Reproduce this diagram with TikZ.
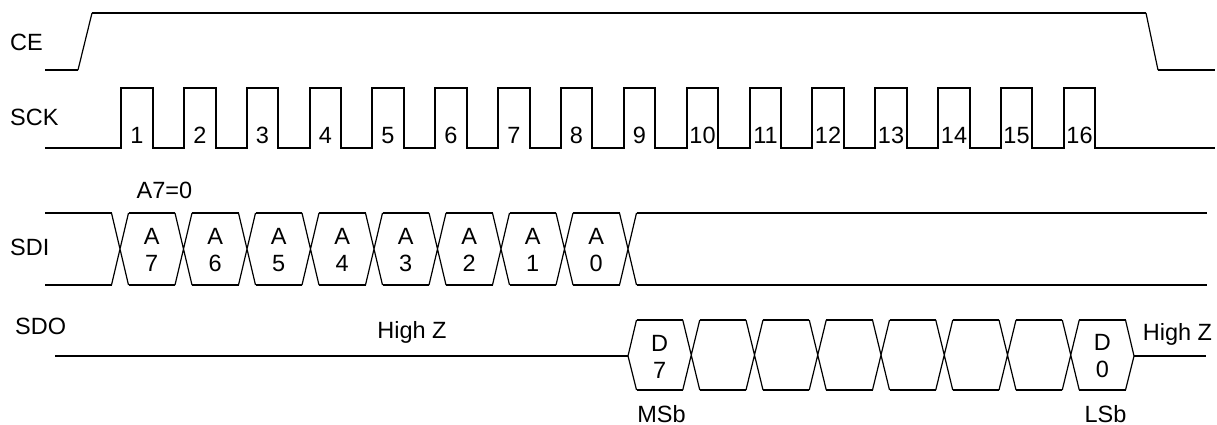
\documentclass[tikz,border=0pt]{standalone}
\usepackage{fontspec}
\setmainfont{Liberation Sans}
\usepackage{tikz}

\begin{document}
\begin{tikzpicture}[x=1pt,y=-1pt]
    \tikzstyle{every node}+=[inner sep=0pt, font=\fontsize{23.5}{27}\selectfont]
    \tikzstyle{wave}=[black, line width=2.4pt]
    \tikzstyle{slope}=[black, line width=1.2pt]
    \useasboundingbox (0,0) rectangle (1217,425);
    % signal names
    \node (ce) [anchor=base west] at (10,50.5) {CE};
    \node (sck) [anchor=base west] at (10,125) {SCK};
    \node (sdi) [anchor=base west] at (10,255) {SDI};
    \node (sdo) [anchor=base west] at (15,334) {SDO};
    % CE
    \draw [wave] (45,70) -- (78,70);
    \draw [slope] (78,70) -- (92,13);
    \draw [wave] (92,13) -- (1146,13);
    \draw [slope] (1146,13) -- (1158,70);
    \draw [wave] (1158,70) -- (1215,70);
    % SCK
    \draw [wave] (45,148) -- (121,148) -- (121,88) -- (153,88) -- (153,148)
        -- (184,148) -- (184,88) -- (216,88) -- (216,148)
        -- (247,148) -- (247,88) -- (278,88) -- (278,148)
        -- (310,148) -- (310,88) -- (341,88) -- (341,148)
        -- (372,148) -- (372,88) -- (404,88) -- (404,148)
        -- (435,148) -- (435,88) -- (467,88) -- (467,148)
        -- (498,148) -- (498,88) -- (530,88) -- (530,148)
        -- (561,148) -- (561,88) -- (592,88) -- (592,148)
        -- (624,148) -- (624,88) -- (655,88) -- (655,148)
        -- (687,148) -- (687,88) -- (718,88) -- (718,148)
        -- (750,148) -- (750,88) -- (781,88) -- (781,148)
        -- (812,148) -- (812,88) -- (844,88) -- (844,148)
        -- (875,148) -- (875,88) -- (907,88) -- (907,148)
        -- (938,148) -- (938,88) -- (970,88) -- (970,148)
        -- (1001,148) -- (1001,88) -- (1032,88) -- (1032,148)
        -- (1064,148) -- (1064,88) -- (1095,88) -- (1095,148) -- (1215,148);
    \node (c1) [anchor=base] at (137,143) {1};
    \node (c2) [anchor=base] at (200,143) {2};
    \node (c3) [anchor=base] at (262.5,143) {3};
    \node (c4) [anchor=base] at (325.5,143) {4};
    \node (c5) [anchor=base] at (388,143) {5};
    \node (c6) [anchor=base] at (451,143) {6};
    \node (c7) [anchor=base] at (514,143) {7};
    \node (c8) [anchor=base] at (576.5,143) {8};
    \node (c9) [anchor=base] at (639.5,143) {9};
    \node (c10) [anchor=base] at (702.5,143) {10};
    \node (c11) [anchor=base] at (765.5,143) {11};
    \node (c12) [anchor=base] at (828,143) {12};
    \node (c13) [anchor=base] at (891,143) {13};
    \node (c14) [anchor=base] at (954,143) {14};
    \node (c15) [anchor=base] at (1016.5,143) {15};
    \node (c16) [anchor=base] at (1079.5,143) {16};
    % SDI
    \node (a7note) [anchor=base] at (164.5,198) {A7=0};
    \draw [wave] (45,213) -- (111.5,213) (45,285) -- (111.5,285);
    \draw [wave] (128.5,213) -- (175,213) (128.5,285) -- (175,285);
    \draw [wave] (192,213) -- (238.5,213) (192,285) -- (238.5,285);
    \draw [wave] (255.5,213) -- (302,213) (255.5,285) -- (302,285);
    \draw [wave] (319,213) -- (365.5,213) (319,285) -- (365.5,285);
    \draw [wave] (382.5,213) -- (429,213) (382.5,285) -- (429,285);
    \draw [wave] (446,213) -- (492.5,213) (446,285) -- (492.5,285);
    \draw [wave] (509.5,213) -- (556,213) (509.5,285) -- (556,285);
    \draw [wave] (573,213) -- (619.5,213) (573,285) -- (619.5,285);
    \draw [wave] (636.5,213) -- (1207,213) (636.5,285) -- (1207,285);
    \draw [slope] (111.5,213) -- (128.5,285) (111.5,285) -- (128.5,213);
    \draw [slope] (175,213) -- (192,285) (175,285) -- (192,213);
    \draw [slope] (238.5,213) -- (255.5,285) (238.5,285) -- (255.5,213);
    \draw [slope] (302,213) -- (319,285) (302,285) -- (319,213);
    \draw [slope] (365.5,213) -- (382.5,285) (365.5,285) -- (382.5,213);
    \draw [slope] (429,213) -- (446,285) (429,285) -- (446,213);
    \draw [slope] (492.5,213) -- (509.5,285) (492.5,285) -- (509.5,213);
    \draw [slope] (556,213) -- (573,285) (556,285) -- (573,213);
    \draw [slope] (619.5,213) -- (636.5,285) (619.5,285) -- (636.5,213);
    \node (a7) [align=center] at (151.75,250) {A\\7};
    \node (a6) [align=center] at (215.25,250) {A\\6};
    \node (a5) [align=center] at (278.75,250) {A\\5};
    \node (a4) [align=center] at (342.25,250) {A\\4};
    \node (a3) [align=center] at (405.75,250) {A\\3};
    \node (a2) [align=center] at (469.25,250) {A\\2};
    \node (a1) [align=center] at (532.75,250) {A\\1};
    \node (a0) [align=center] at (596.25,250) {A\\0};
    % SDO
    \draw [wave] (55,356) -- (628,356);
    \node (hizl) [anchor=base] at (412,338) {High Z};
    \draw [slope] (636.5,320) -- (628,356) -- (636.5,390);
    \draw [wave] (636.5,320) -- (682.75,320) (636.5,390) -- (682.75,390);
    \draw [wave] (699.75,320) -- (746,320) (699.75,390) -- (746,390);
    \draw [wave] (763,320) -- (809.25,320) (763,390) -- (809.25,390);
    \draw [wave] (826.25,320) -- (872.5,320) (826.25,390) -- (872.5,390);
    \draw [wave] (889.5,320) -- (935.75,320) (889.5,390) -- (935.75,390);
    \draw [wave] (952.75,320) -- (999,320) (952.75,390) -- (999,390);
    \draw [wave] (1016,320) -- (1062.25,320) (1016,390) -- (1062.25,390);
    \draw [wave] (1079.25,320) -- (1125.5,320) (1079.25,390) -- (1125.5,390);
    \draw [slope] (682.75,320) -- (699.75,390) (682.75,390) -- (699.75,320);
    \draw [slope] (746,320) -- (763,390) (746,390) -- (763,320);
    \draw [slope] (809.25,320) -- (826.25,390) (809.25,390) -- (826.25,320);
    \draw [slope] (872.5,320) -- (889.5,390) (872.5,390) -- (889.5,320);
    \draw [slope] (935.75,320) -- (952.75,390) (935.75,390) -- (952.75,320);
    \draw [slope] (999,320) -- (1016,390) (999,390) -- (1016,320);
    \draw [slope] (1062.25,320) -- (1079.25,390) (1062.25,390) -- (1079.25,320);
    \draw [slope] (1125.5,320) -- (1134,356) -- (1125.5,390);
    \draw [wave] (1134,356) -- (1206,356);
    \node (d7) [align=center] at (659.6,356.5) {D\\7};
    \node (d0) [align=center] at (1102.4,356.5) {D\\0};
    \node (hizr) [anchor=base] at (1177.5,340) {High Z};
    \node (msb) [anchor=base] at (661.5,422) {MSb};
    \node (lsb) [anchor=base] at (1105.5,422) {LSb};
\end{tikzpicture}
\end{document}
